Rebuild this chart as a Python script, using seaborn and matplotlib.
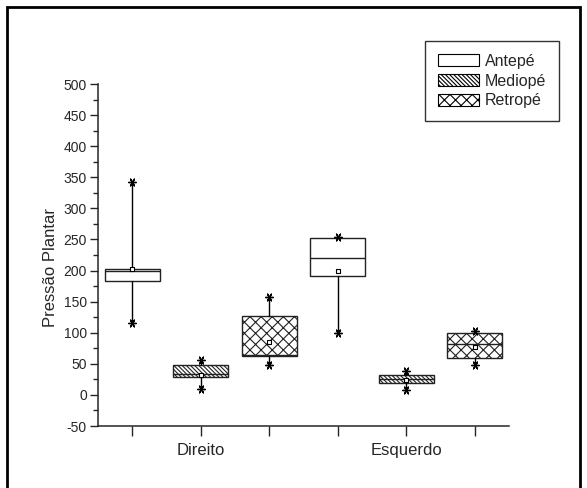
import numpy as np
import pandas as pd
import matplotlib
matplotlib.use('Agg')
import matplotlib.pyplot as plt
from matplotlib.patches import Patch, Rectangle
import seaborn as sns

# -----------------------------
#   Dados
# -----------------------------
lados = ['Direito', 'Esquerdo']
regioes = ['Antepé', 'Mediopé', 'Retropé']
hatches = ['', '\\' * 8, 'x' * 3]

# ordem: Direito (Antepé, Mediopé, Retropé), Esquerdo (Antepé, Mediopé, Retropé)
q1 = [183, 28, 63, 192, 19, 59]
mediana = [199, 33, 63.5, 220, 25, 82]
q3 = [202, 48, 127, 252, 32, 99]
media = [203, 32, 85, 200, 24, 77]
minimo = [116, 10, 48, 100, 8, 48]
maximo = [342, 56, 157, 254, 39, 103]

posicoes = [1, 2, 3, 4, 5, 6]
xticklabels = ['', 'Direito', '', '', 'Esquerdo', '']

############    estilo    ############
sns.set_style('ticks')
plt.rcParams['font.family'] = ['Liberation Sans', 'DejaVu Sans']
plt.rcParams['hatch.linewidth'] = 0.8
plt.rcParams['axes.unicode_minus'] = False

fig = plt.figure(figsize=(5.87, 4.88), dpi=100)
ax = fig.add_axes([98/587, 1-426/488, 411/587, 342/488])

stats = []
for i in range(6):
    stats.append(dict(med=mediana[i], q1=q1[i], q3=q3[i],
                      whislo=minimo[i], whishi=maximo[i],
                      mean=media[i], fliers=[]))

bp = ax.bxp(stats, positions=posicoes, widths=0.8, patch_artist=True,
            showcaps=False, showfliers=False, showmeans=False,
            boxprops=dict(facecolor='white', edgecolor='#222222', linewidth=1.0),
            whiskerprops=dict(color='black', linewidth=1.0),
            medianprops=dict(color='#222222', linewidth=1.0))

for i, caixa in enumerate(bp['boxes']):
    caixa.set_hatch(hatches[i % 3])

# extremos (estrelas) e médias
df_ext = pd.DataFrame({'x': posicoes * 2, 'y': minimo + maximo})
sns.scatterplot(data=df_ext, x='x', y='y', marker=(6, 2, 90), s=30,
                color='black', linewidth=1.0, ax=ax, zorder=5)
df_med = pd.DataFrame({'x': posicoes, 'y': media})
sns.scatterplot(data=df_med, x='x', y='y', marker='s', s=10,
                facecolor='white', edgecolor='black', linewidth=0.8,
                ax=ax, zorder=6)

ax.set_xlim(0.5, 6.5)
ax.set_ylim(-50, 500)
ax.set_xticks(posicoes)
ax.set_xticklabels(xticklabels, fontsize=12)
ax.set_yticks(np.arange(-50, 501, 50))
ax.set_yticks(np.arange(-50, 501, 25), minor=True)
ax.tick_params(axis='y', labelsize=10, length=6, width=1, pad=2)
ax.tick_params(axis='y', which='minor', length=3.5, width=1)
ax.tick_params(axis='x', length=7, width=1, pad=5)
ax.set_xlabel('')
ax.set_ylabel('Pressão Plantar', fontsize=12)
ax.yaxis.set_label_coords(-0.097, 0.462)

sns.despine(ax=ax)
for s in ['left', 'bottom']:
    ax.spines[s].set_linewidth(1.1)

# -----------------------------
#   Legenda
# -----------------------------
handles = [Patch(facecolor='white', edgecolor='black', hatch=h, linewidth=0.8)
           for h in hatches]
leg = fig.legend(handles, regioes, loc='upper right',
                 bbox_to_anchor=(559/587, 1-41/488), fontsize=11.5,
                 frameon=True, fancybox=False, edgecolor='black',
                 handlelength=2.6, handleheight=0.8, handletextpad=0.35,
                 labelspacing=0.3, borderpad=0.8, borderaxespad=0)
leg.get_frame().set_linewidth(1.0)

# moldura externa
fig.patches.append(Rectangle((7/587, -0.02), 573/587, 1-7/488+0.02,
                             transform=fig.transFigure, fill=False,
                             edgecolor='black', linewidth=2))

plt.savefig('out.png', dpi=100)
